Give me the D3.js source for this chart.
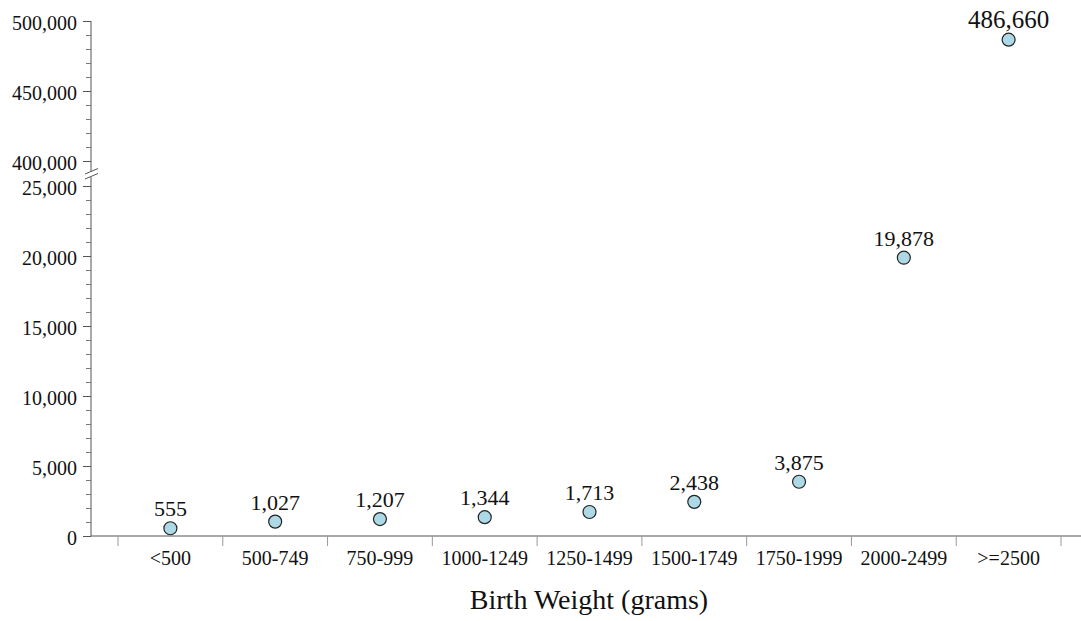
<!DOCTYPE html>
<html>
<head>
<meta charset="utf-8">
<script src="https://cdn.jsdelivr.net/npm/d3@7"></script>
<style>
  html, body { margin: 0; padding: 0; background: #fff; }
  svg { display: block; font-family: "Liberation Serif", "DejaVu Serif", serif; }
</style>
</head>
<body>
<svg id="chart" width="1081" height="621"></svg>
<script>
// Births by birth-weight class
const categories = ["<500", "500-749", "750-999", "1000-1249", "1250-1499",
                    "1500-1749", "1750-1999", "2000-2499", ">=2500"];
const births = [555, 1027, 1207, 1344, 1713, 2438, 3875, 19878, 486660];

// Tick values for the two segments of the broken y axis
const upperMajorTicks = [400000, 450000, 500000];
const upperMinorTicks = [410000, 420000, 430000, 440000, 460000, 470000, 480000, 490000];
const lowerMajorTicks = [0, 5000, 10000, 15000, 20000, 25000];
const lowerMinorTicks = d3.range(1000, 25000, 1000).filter(v => v % 5000 !== 0);

const xTitle = "Birth Weight (grams)";

const svg = d3.select("#chart");
const fmt = d3.format(",");

const axisX = 91;          // y-axis position
const baseY = 536;         // x-axis position

const x = d3.scaleBand().domain(categories).range([118, 1061]).padding(0);
const yLow = d3.scaleLinear().domain([0, 25000]).range([baseY, 186]);
const yHigh = d3.scaleLinear().domain([400000, 500000]).range([161, 21]);
const y = v => (v >= 400000 ? yHigh(v) : yLow(v));

const ink = "#111";
const axisColor = "#555";

// ---- y axis: two segments with a break ----
function drawSegment(scale, major, minor, extent) {
  const g = svg.append("g").attr("transform", `translate(${axisX},0)`);
  g.append("line")
    .attr("x1", 0).attr("x2", 0)
    .attr("y1", extent[0]).attr("y2", extent[1])
    .attr("stroke", axisColor).attr("stroke-width", 1);

  const minorAxis = d3.axisLeft(scale).tickValues(minor).tickSize(5).tickFormat("");
  const gm = g.append("g").call(minorAxis);
  gm.select(".domain").remove();
  gm.selectAll(".tick line").attr("stroke", "#777");

  const majorAxis = d3.axisLeft(scale).tickValues(major).tickSize(8).tickPadding(6).tickFormat(fmt);
  const gM = g.append("g").call(majorAxis);
  gM.select(".domain").remove();
  gM.selectAll(".tick line").attr("stroke", axisColor);
  gM.selectAll(".tick text")
    .attr("fill", ink)
    .attr("font-family", "Liberation Serif, serif")
    .attr("font-size", 20)
    .attr("dy", "0.4em");
}

drawSegment(yHigh, upperMajorTicks, upperMinorTicks, [yHigh(500000), 171.5]);
drawSegment(yLow, lowerMajorTicks, lowerMinorTicks, [177, baseY]);

// break marks
const brk = svg.append("g").attr("stroke", axisColor).attr("stroke-width", 1);
[0, 5].forEach(off => {
  brk.append("line")
    .attr("x1", axisX - 6).attr("y1", 174 + off)
    .attr("x2", axisX + 7).attr("y2", 168.5 + off);
});

// ---- x axis ----
svg.append("line")
  .attr("x1", axisX).attr("x2", 1081)
  .attr("y1", baseY).attr("y2", baseY)
  .attr("stroke", axisColor).attr("stroke-width", 1);

const boundaries = categories.map(c => x(c)).concat([x.range()[1]]);
svg.append("g").selectAll("line")
  .data(boundaries)
  .join("line")
  .attr("x1", d => d).attr("x2", d => d)
  .attr("y1", baseY).attr("y2", baseY + 10)
  .attr("stroke", "#999").attr("stroke-width", 1);

svg.append("g").selectAll("text")
  .data(categories)
  .join("text")
  .attr("x", d => x(d) + x.bandwidth() / 2)
  .attr("y", 565)
  .attr("text-anchor", "middle")
  .attr("fill", ink)
  .attr("font-size", 20)
  .text(d => d);

svg.append("text")
  .attr("x", 589)
  .attr("y", 609)
  .attr("text-anchor", "middle")
  .attr("fill", ink)
  .attr("font-size", 28)
  .text(xTitle);

// ---- points and value labels ----
const data = categories.map((c, i) => ({ cat: c, value: births[i] }));

svg.append("g").selectAll("circle")
  .data(data)
  .join("circle")
  .attr("cx", d => x(d.cat) + x.bandwidth() / 2)
  .attr("cy", d => y(d.value))
  .attr("r", 6.5)
  .attr("fill", "#add8e6")
  .attr("stroke", "#222")
  .attr("stroke-width", 1.2);

svg.append("g").selectAll("text")
  .data(data)
  .join("text")
  .attr("x", d => x(d.cat) + x.bandwidth() / 2)
  .attr("y", d => y(d.value) - 12)
  .attr("text-anchor", "middle")
  .attr("fill", ink)
  .attr("font-size", d => (d.value >= 400000 ? 25 : 22))
  .text(d => fmt(d.value));
</script>
</body>
</html>
